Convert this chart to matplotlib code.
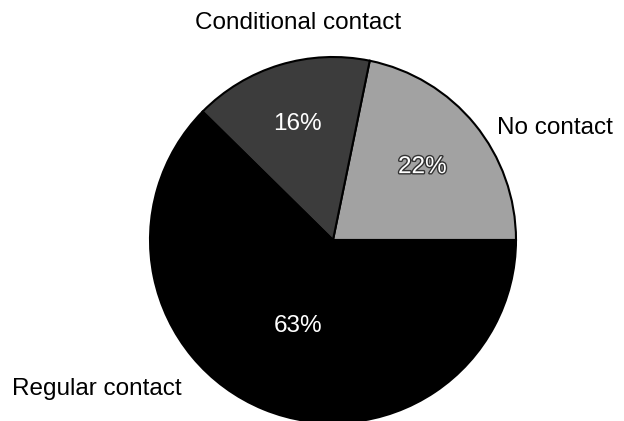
import numpy as np
import matplotlib
matplotlib.use("Agg")
import matplotlib.pyplot as plt
import matplotlib.patheffects as pe

plt.rcParams['font.family'] = ['Liberation Sans', 'DejaVu Sans']

categories = ['No contact', 'Conditional contact', 'Regular contact']
shares = [22, 16, 63]
colors = ['#a2a2a2', '#3c3c3c', '#000000']

fig = plt.figure(figsize=(6.24, 4.21), dpi=100)
ax = fig.add_axes([0, 0, 1, 1])

cx, cy, r = 333, 421 - 240, 183
wedges, _ = ax.pie(shares, colors=colors, startangle=0, counterclock=True,
                   center=(cx, cy), radius=r,
                   wedgeprops=dict(edgecolor='black', linewidth=1.5))
ax.set_xlim(0, 624)
ax.set_ylim(0, 421)
ax.set_aspect('equal')
ax.axis('off')

# percentages inside the slices
pct_dist = [0.63, 0.66, 0.51]
for w, v, d in zip(wedges, shares, pct_dist):
    ang = np.deg2rad((w.theta1 + w.theta2) / 2)
    t = ax.text(cx + d * r * np.cos(ang), cy + d * r * np.sin(ang), f'{v}%',
                ha='center', va='center', color='white', fontsize=17.5)
    if v == 22:
        t.set_path_effects([pe.withStroke(linewidth=2, foreground='#333333')])

# category labels outside
ax.text(298, 421 - 23, categories[1], ha='center', va='center', fontsize=17.5)
ax.text(497, 421 - 128, categories[0], ha='left', va='center', fontsize=17.5)
ax.text(12, 421 - 389, categories[2], ha='left', va='center', fontsize=17.5)

fig.savefig('out.png', dpi=100)
